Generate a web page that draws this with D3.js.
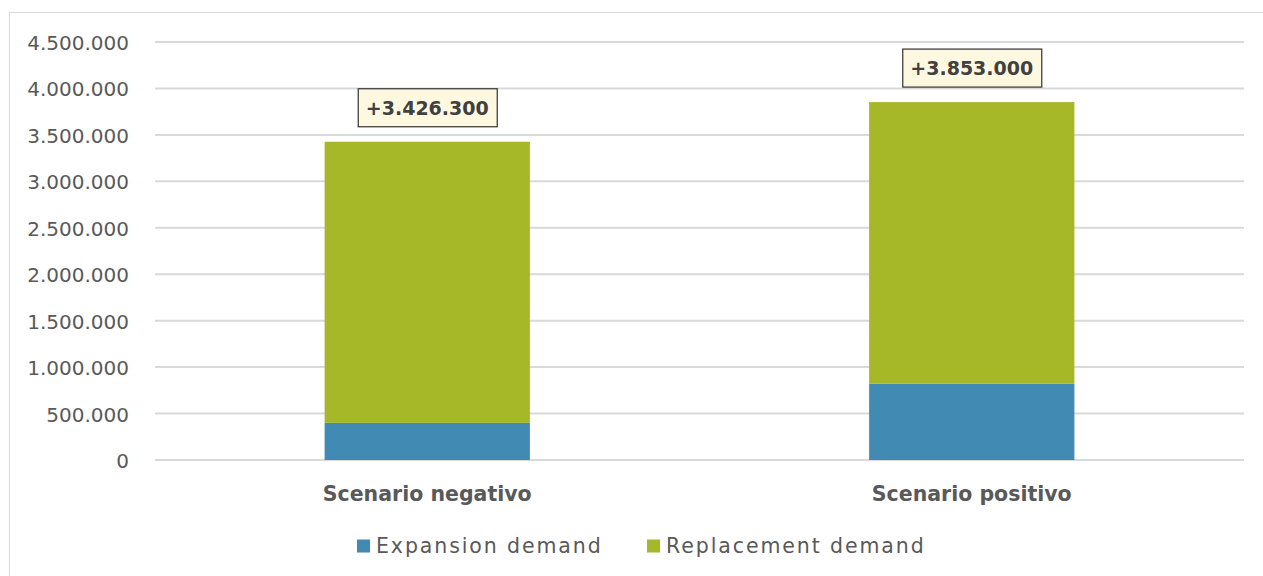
<!DOCTYPE html>
<html>
<head>
<meta charset="utf-8">
<script src="https://cdn.jsdelivr.net/npm/d3@7"></script>
<style>
  body { margin: 0; background: #fff; }
  svg { display: block; font-family: "Century Gothic", "DejaVu Sans", sans-serif; }
</style>
</head>
<body>
<script>
// ------------  DATA  ------------
const scenarios = ["Scenario negativo", "Scenario positivo"];
const expansion = [400000, 820000];
const replacement = [3026300, 3033000];
const totalLabels = ["+3.426.300", "+3.853.000"];
const seriesNames = ["Expansion demand", "Replacement demand"];
const yTicks = [0, 500000, 1000000, 1500000, 2000000, 2500000, 3000000, 3500000, 4000000, 4500000];

// ------------  PARAMETERS  ------------
const W = 1263, H = 576;
const pad = [42, 19, 116, 155]; // top, right, bottom, left
const colors = ["#418ab3", "#a6b727"];
const textCol = "#595959";

const svg = d3.select("body").append("svg").attr("width", W).attr("height", H);

// outer frame
svg.append("rect")
  .attr("x", 9.5).attr("y", 12.5)
  .attr("width", W).attr("height", H)
  .attr("fill", "none").attr("stroke", "#d9d9d9");

// ------------  SCALES  ------------
const x = d3.scaleBand().domain(scenarios).range([pad[3], W - pad[1]]).padding(0);
const y = d3.scaleLinear().domain([0, 4500000]).range([H - pad[2], pad[0]]);
const barW = x.bandwidth() * 0.377;

const fmt = d => d3.format(",")(d).replace(/,/g, ".");

// ------------  GRID + Y LABELS  ------------
svg.append("g").selectAll("line").data(yTicks).enter().append("line")
  .attr("x1", pad[3]).attr("x2", W - pad[1])
  .attr("y1", d => y(d)).attr("y2", d => y(d))
  .attr("stroke", "#d9d9d9").attr("stroke-width", 2);

svg.append("g").selectAll("text").data(yTicks).enter().append("text")
  .attr("x", 129).attr("y", d => y(d) + 1)
  .attr("dy", "0.35em")
  .attr("text-anchor", "end")
  .attr("font-size", 20)
  .attr("fill", textCol)
  .text(d => fmt(d));

// ------------  BARS  ------------
const rows = scenarios.map((s, i) => ({ s, e: expansion[i], r: replacement[i] }));
const stack = d3.stack().keys(["e", "r"])(rows);

svg.append("g").selectAll("g").data(stack).enter().append("g")
  .attr("fill", (d, i) => colors[i])
  .selectAll("rect").data(d => d).enter().append("rect")
  .attr("x", d => x(d.data.s) + (x.bandwidth() - barW) / 2)
  .attr("width", barW)
  .attr("y", d => y(d[1]))
  .attr("height", d => y(d[0]) - y(d[1]));

// ------------  TOTAL LABELS  ------------
const lab = svg.append("g").selectAll("g").data(rows).enter().append("g")
  .attr("transform", (d, i) => "translate(" + (x(d.s) + x.bandwidth() / 2) + "," + (y(d.e + d.r) - 34) + ")");

lab.append("rect")
  .attr("x", -69).attr("y", -19)
  .attr("width", 139).attr("height", 38)
  .attr("fill", "#fff8e1").attr("stroke", "#404040").attr("stroke-width", 1.3);

lab.append("text")
  .attr("text-anchor", "middle").attr("dy", "0.36em")
  .attr("font-size", 19).attr("font-weight", "bold")
  .attr("fill", "#404040")
  .text((d, i) => totalLabels[i]);

// ------------  X LABELS  ------------
svg.append("g").selectAll("text").data(scenarios).enter().append("text")
  .attr("x", d => x(d) + x.bandwidth() / 2)
  .attr("y", H - pad[2] + 34)
  .attr("dy", "0.35em")
  .attr("text-anchor", "middle")
  .attr("font-size", 20.5).attr("font-weight", "bold")
  .attr("fill", textCol)
  .text(d => d);

// ------------  LEGEND  ------------
const legX = [357, 647];
const leg = svg.append("g").selectAll("g").data(seriesNames).enter().append("g")
  .attr("transform", (d, i) => "translate(" + legX[i] + ",546)");

leg.append("rect")
  .attr("x", 0).attr("y", -6.5).attr("width", 13).attr("height", 13)
  .attr("fill", (d, i) => colors[i]);

leg.append("text")
  .attr("x", 19).attr("dy", "0.35em")
  .attr("font-size", 20.5).attr("fill", textCol)
  .attr("letter-spacing", 1.9)
  .text(d => d);
</script>
</body>
</html>
